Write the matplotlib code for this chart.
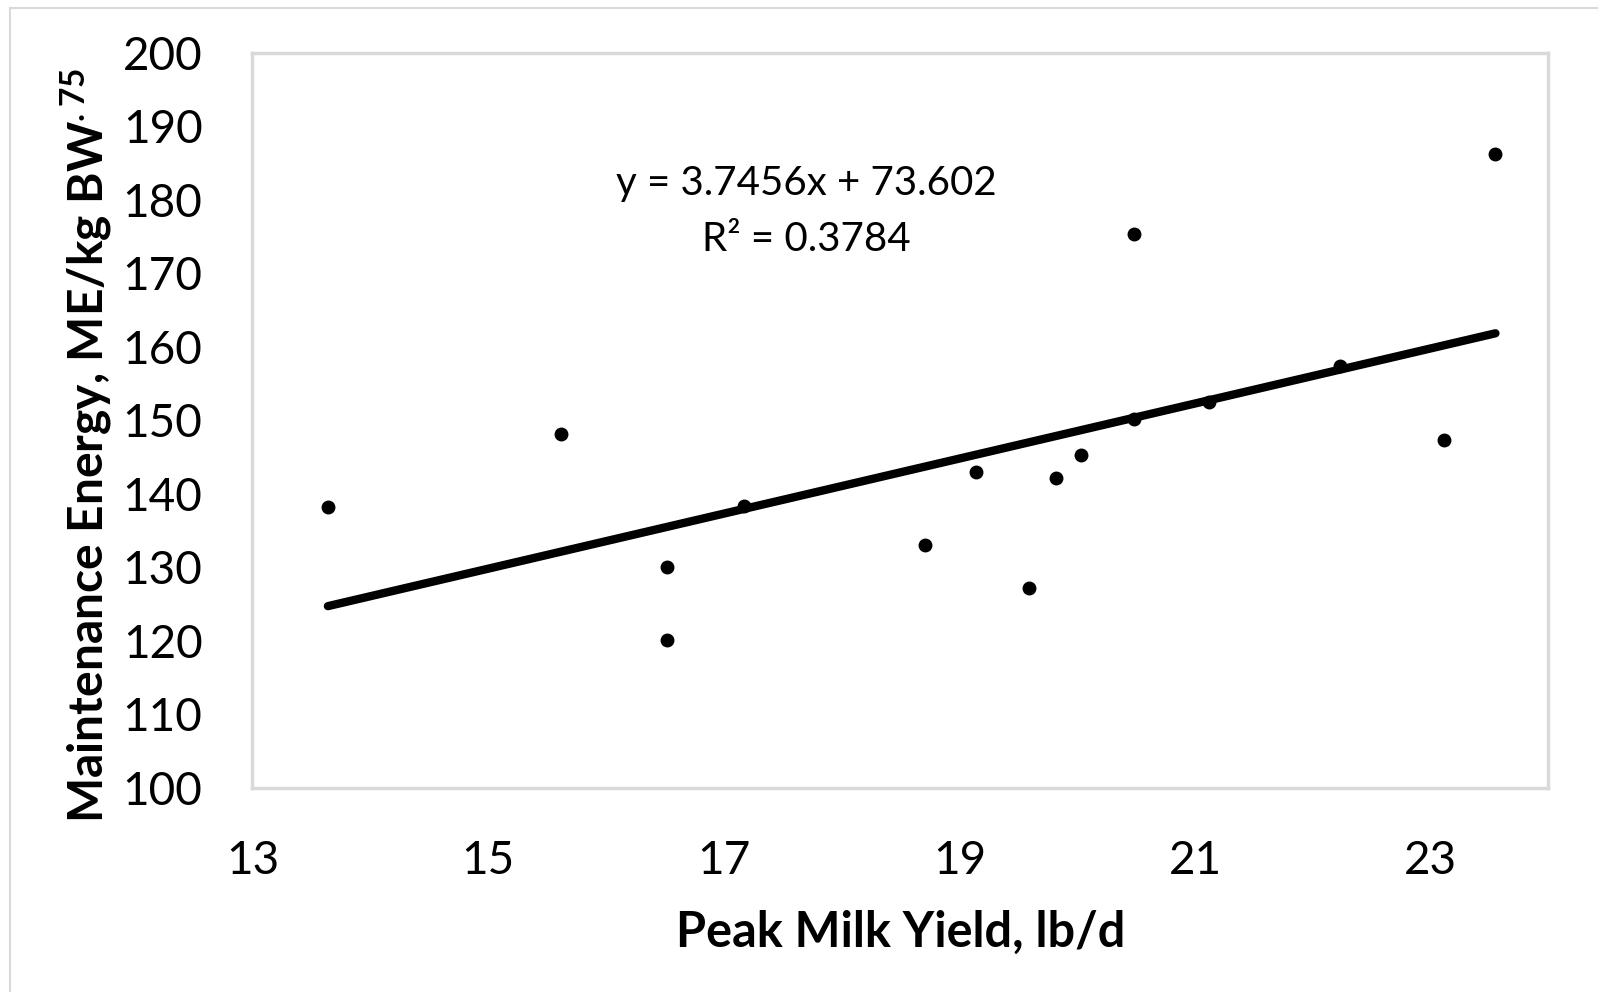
import matplotlib
matplotlib.use("Agg")
import matplotlib.pyplot as plt
from matplotlib.lines import Line2D
import numpy as np

# ── données ──────────────────────────────────────────────────
peak_milk = [13.64, 15.62, 16.52, 16.52, 17.17, 18.71, 19.14, 19.59,
             19.82, 20.03, 20.48, 20.48, 21.12, 22.23, 23.11, 23.55]
maint_energy = [138.2, 148.1, 130.0, 120.1, 138.3, 133.0, 143.0, 127.2,
                142.1, 145.2, 175.3, 150.2, 152.4, 157.3, 147.3, 186.2]
slope, intercept, r2 = 3.7456, 73.602, 0.3784
x_ticks = [13, 15, 17, 19, 21, 23]
y_ticks = list(range(100, 201, 10))

plt.rcParams["font.family"] = ["Lato", "DejaVu Sans"]
plt.rcParams["mathtext.fontset"] = "custom"
plt.rcParams["mathtext.rm"] = "Lato"
plt.rcParams["mathtext.bf"] = "Lato:bold"

fig = plt.figure(figsize=(15.98, 9.92), dpi=100)
ax = fig.add_axes([0.158, 0.206, 0.811, 0.741])

ax.plot(peak_milk, maint_energy, "o", color="black", markersize=9, zorder=3)
xf = np.array([min(peak_milk), max(peak_milk)])
ax.plot(xf, slope * xf + intercept, color="black", lw=6, solid_capstyle="round", zorder=2)

ax.text(17.7, 182.2, f"y = {slope}x + {intercept}", ha="center", va="center", fontsize=29)
ax.text(17.7, 174.6, f"R² = {r2}", ha="center", va="center", fontsize=29)

ax.set_xlim(13, 24)
ax.set_ylim(100, 200)
ax.set_xticks(x_ticks)
ax.set_yticks(y_ticks)
ax.tick_params(length=0, labelsize=33)
ax.tick_params(axis="y", pad=36)
ax.tick_params(axis="x", pad=38)
for s in ax.spines.values():
    s.set_color("#d9d9d9")
    s.set_linewidth(2.5)

ax.set_xlabel("Peak Milk Yield, lb/d", fontsize=35, fontweight="bold", labelpad=20)
ax.set_ylabel(r"Maintenance Energy, ME/kg BW$^{\mathbf{.75}}$", fontsize=34.5,
              fontweight="bold")
ax.yaxis.set_label_coords(-0.107, 0.465)

# cadre extérieur (haut et gauche)
fig.add_artist(Line2D([10/1598, 1], [1 - 8/992, 1 - 8/992], color="#d9d9d9", lw=1.5))
fig.add_artist(Line2D([10/1598, 10/1598], [0, 1 - 8/992], color="#d9d9d9", lw=1.5))

fig.savefig("out.png", dpi=100)
